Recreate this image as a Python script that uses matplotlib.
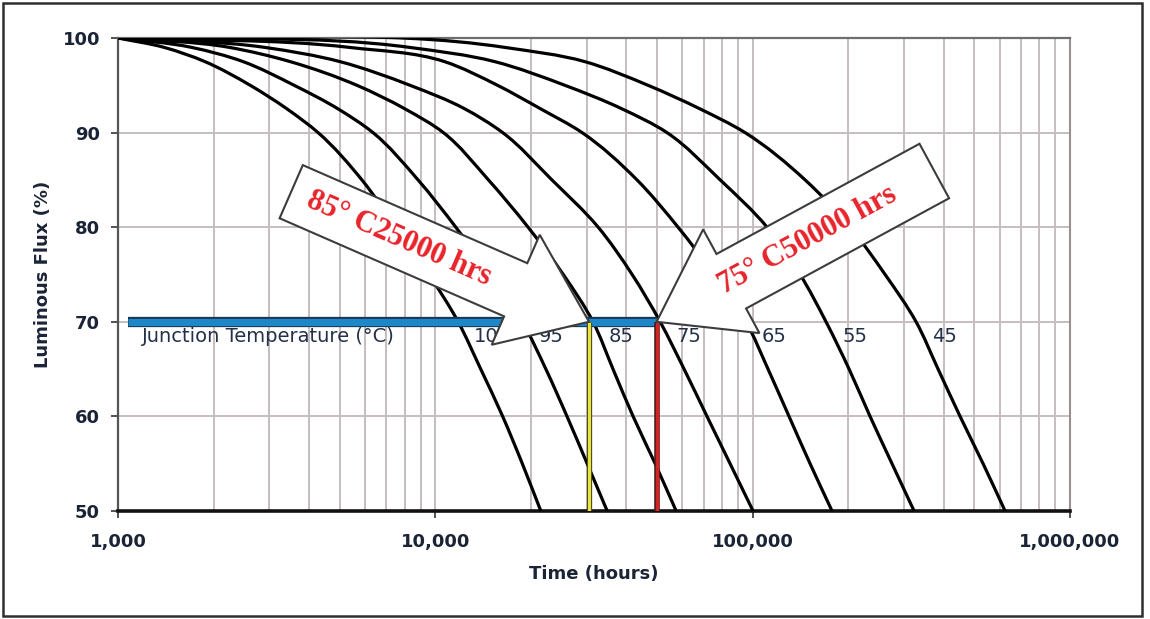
import numpy as np
import matplotlib
matplotlib.use("Agg")
import matplotlib.pyplot as plt
from matplotlib.patches import Polygon, Rectangle, PathPatch
from matplotlib.path import Path
import matplotlib.patheffects as pe
from matplotlib.ticker import FixedLocator, FuncFormatter, NullFormatter

# ---------------- data ----------------
temps = [105, 95, 85, 75, 65, 55, 45]
flux_levels = [100, 99, 97.5, 95, 92.5, 90, 85, 80, 75, 70, 65, 60, 55, 50]
hours_105 = [1000, 1400, 1880, 2610, 3410, 4270, 5870, 7520, 9550, 11800, 13900, 16300, 18800, 21500]
hours_95 = [1000, 1710, 2480, 3590, 4940, 6360, 8820, 11600, 14900, 18800, 22300, 26000, 30100, 34800]
hours_85 = [1000, 2250, 3490, 5660, 8030, 10600, 14700, 19600, 25300, 31400, 36300, 42000, 49300, 57400]
hours_75 = [1000, 2910, 5010, 8320, 12400, 16300, 23300, 32600, 41700, 51100, 60800, 71800, 84900, 100300]
hours_65 = [1000, 5380, 10700, 15700, 21500, 29000, 43200, 58200, 75600, 95300, 111800, 130200, 151700, 177900]
hours_55 = [1000, 8320, 15400, 25600, 38800, 53700, 79000, 111000, 141100, 170300, 201300, 234400, 274900, 322600]
hours_45 = [1000, 16600, 29600, 46800, 68300, 94600, 146300, 202800, 261400, 327300, 384000, 450400, 532300, 624400]
curves = [hours_105, hours_95, hours_85, hours_75, hours_65, hours_55, hours_45]

target_flux = 70
bar_start_hours = 1075
yellow_hours = 30500
red_hours = 49800
x_ticks = [1000, 10000, 100000, 1000000]
y_ticks = [50, 60, 70, 80, 90, 100]
axis_label_x = "Time (hours)"
axis_label_y = "Luminous Flux (%)"
junction_label = "Junction Temperature (°C)"
arrow1_text = "85° C25000 hrs"
arrow2_text = "75° C50000 hrs"

# ---------------- figure ----------------
W, H = 1150, 619
fig = plt.figure(figsize=(W / 100, H / 100), dpi=100)
fig.patch.set_facecolor("white")

def px(x, y):
    """image pixel (y down) -> figure fraction"""
    return x / W, 1 - y / H

ax = fig.add_axes([118 / W, (H - 511) / H, (1070 - 118) / W, (511 - 38) / H])
ax.set_xscale("log")
ax.set_xlim(1000, 1000000)
ax.set_ylim(50, 100)
ax.autoscale(False)

txt_col = "#1b2436"
grid_col = "#c6bebe"

# grid
minor = [m * 10 ** e for e in range(3, 6) for m in range(2, 10)]
ax.xaxis.set_major_locator(FixedLocator(x_ticks))
ax.xaxis.set_minor_locator(FixedLocator(minor))
ax.xaxis.set_minor_formatter(NullFormatter())
ax.xaxis.set_major_formatter(FuncFormatter(lambda v, p: f"{int(v):,}"))
ax.yaxis.set_major_locator(FixedLocator(y_ticks))
ax.grid(which="both", axis="x", color=grid_col, lw=1.4, zorder=0)
ax.grid(which="major", axis="y", color=grid_col, lw=1.4, zorder=0)
ax.set_axisbelow(True)

ax.tick_params(axis="x", which="major", direction="out", length=5, width=1.2,
               color="#333333", pad=11, labelsize=13, labelcolor=txt_col)
ax.tick_params(axis="x", which="minor", length=0)
ax.tick_params(axis="y", which="major", direction="out", length=5, width=1.2,
               color="#333333", pad=8, labelsize=13, labelcolor=txt_col)
for lab in ax.get_xticklabels() + ax.get_yticklabels():
    lab.set_fontweight("bold")

ax.spines["left"].set_color("#555555")
ax.spines["left"].set_linewidth(1.6)
ax.spines["bottom"].set_color("#111111")
ax.spines["bottom"].set_linewidth(2.6)
ax.spines["top"].set_color("#6e6e6e")
ax.spines["top"].set_linewidth(1.6)
ax.spines["right"].set_color("#9a9090")
ax.spines["right"].set_linewidth(1.5)

ax.set_xlabel(axis_label_x, fontsize=13, fontweight="bold", color=txt_col)
ax.set_ylabel(axis_label_y, fontsize=13, fontweight="bold", color=txt_col)
ax.xaxis.set_label_coords(0.5, -0.115)
ax.yaxis.set_label_coords(-0.069, 0.5)

# smoothed line through the read points (like Excel "smoothed line"),
# chord-length Hermite spline drawn as Bezier segments
SX, SY = 317.3, 9.46   # approx. pixels per decade / per percent

def smooth_path(xh, yv):
    P = np.column_stack([np.log10(xh) * SX, np.asarray(yv, float) * SY])
    n = len(P)
    seg = P[1:] - P[:-1]
    h = np.linalg.norm(seg, axis=1)
    s = seg / h[:, None]
    D = np.zeros_like(P)
    D[0] = s[0]
    D[-1] = s[-1]
    for i in range(1, n - 1):
        w = h[i - 1] + h[i]
        D[i] = (h[i] / w) * s[i - 1] + (h[i - 1] / w) * s[i]
    verts = [P[0]]
    codes = [Path.MOVETO]
    for i in range(n - 1):
        verts += [P[i] + D[i] * h[i] / 3, P[i + 1] - D[i + 1] * h[i] / 3, P[i + 1]]
        codes += [Path.CURVE4] * 3
    V = np.array(verts)
    V[:, 0] = 10 ** (V[:, 0] / SX)
    V[:, 1] = V[:, 1] / SY
    return Path(V, codes)

for hrs in curves:
    ax.add_patch(PathPatch(smooth_path(hrs, flux_levels), fill=False,
                           edgecolor="black", lw=2.3, capstyle="round",
                           joinstyle="round", zorder=3))

# blue bar at 70 %
ax.plot([bar_start_hours, red_hours], [target_flux, target_flux], color="#1c87c9",
        lw=5.2, solid_capstyle="butt", zorder=4,
        path_effects=[pe.Stroke(linewidth=7.4, foreground="#1d3550"), pe.Normal()])

# yellow and red verticals
ax.plot([yellow_hours, yellow_hours], [50, target_flux], color="#e9e33a", lw=2.2,
        solid_capstyle="butt", zorder=5,
        path_effects=[pe.Stroke(linewidth=3.8, foreground="#4a4a2a"), pe.Normal()])
ax.plot([red_hours, red_hours], [50, target_flux], color="#d42222", lw=2.4,
        solid_capstyle="butt", zorder=5,
        path_effects=[pe.Stroke(linewidth=4.0, foreground="#4a1a1a"), pe.Normal()])

# junction temperature labels
lab_col = "#243049"
fig.text(*px(142, 337), junction_label, fontsize=14, color=lab_col,
         ha="left", va="center", zorder=6)
i70 = flux_levels.index(target_flux)
for t, hrs in zip(temps, curves):
    ax.annotate(str(t), xy=(hrs[i70], target_flux), xytext=(16, -15),
                textcoords="offset pixels", fontsize=14, color=lab_col,
                ha="left", va="center", zorder=6)

ax.set_xlim(1000, 1000000)
ax.set_ylim(50, 100)

# block arrows
fig.canvas.draw()
inv = fig.transFigure.inverted()

def block_arrow(tip_data, angle_deg, total_len, head_len, body_w, head_w,
                text, text_along, rot):
    tip = ax.transData.transform(tip_data)
    a = np.deg2rad(angle_deg)
    u = np.array([np.cos(a), np.sin(a)])
    n = np.array([-u[1], u[0]])
    pts = [tip,
           tip + u * head_len + n * head_w / 2,
           tip + u * head_len + n * body_w / 2,
           tip + u * total_len + n * body_w / 2,
           tip + u * total_len - n * body_w / 2,
           tip + u * head_len - n * body_w / 2,
           tip + u * head_len - n * head_w / 2]
    poly = Polygon(inv.transform(pts), closed=True, transform=fig.transFigure,
                   facecolor="white", edgecolor="#3c3c3c", lw=1.5, zorder=10,
                   joinstyle="miter")
    fig.add_artist(poly)
    c = inv.transform([tip + u * text_along])[0]
    fig.text(c[0], c[1], text, rotation=rot, rotation_mode="anchor",
             ha="center", va="center", fontsize=22, fontweight="bold",
             family="Liberation Serif", color="#e8232b", zorder=11)

block_arrow((yellow_hours, target_flux), 156.4, 325, 80, 58, 120,
            arrow1_text, 208, -23.6)
block_arrow((red_hours, target_flux), 28.5, 316, 85, 62, 118,
            arrow2_text, 172, 28.5)

# outer frame
fig.add_artist(Rectangle(px(3, 616), 1139 / W, 613 / H, transform=fig.transFigure,
                         fill=False, edgecolor="#2e2e2e", lw=1.8, zorder=20))

fig.savefig("out.png", dpi=100, facecolor="white")
